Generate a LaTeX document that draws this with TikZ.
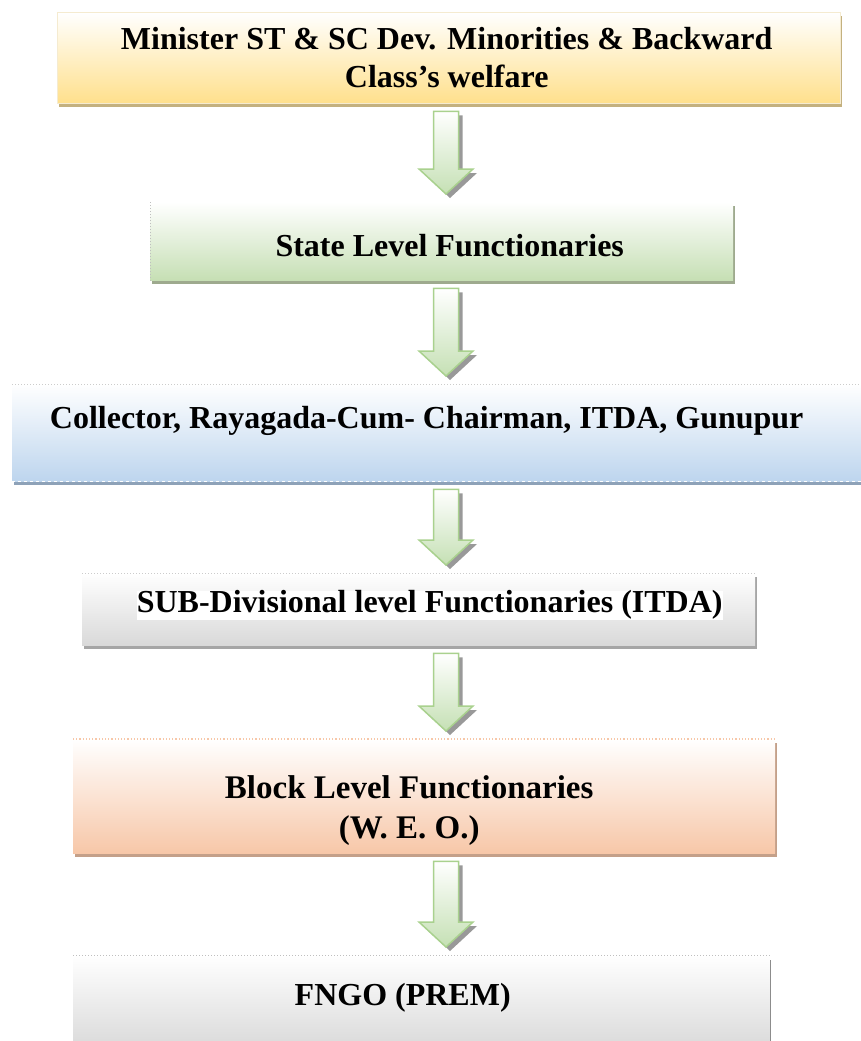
\documentclass[tikz,border=0pt]{standalone}
\usepackage{fontspec}
\setmainfont{Liberation Serif}
\usetikzlibrary{calc, shadows}

\definecolor{minYellow}{HTML}{FFE08C}
\definecolor{minShadow}{HTML}{C4B17F}
\definecolor{minEdge}{HTML}{F5EBD0}
\definecolor{stGreen}{HTML}{C6DFB4}
\definecolor{stShadow}{HTML}{9EAA8E}
\definecolor{colBlue}{HTML}{BDD5EE}
\definecolor{colShadow}{HTML}{8EA2B8}
\definecolor{subGray}{HTML}{D9D9D9}
\definecolor{subShadow}{HTML}{A6A6A6}
\definecolor{blkPeach}{HTML}{F7C7A8}
\definecolor{blkShadow}{HTML}{C4A089}
\definecolor{arrGreen}{HTML}{A9D18E}
\definecolor{arrFill}{HTML}{C5E0B4}

\tikzset{
  levelbox/.style={anchor=north west, inner sep=0pt, top color=white},
  leveltext/.style={font=\bfseries\fontsize{32}{38}\selectfont, align=center, inner sep=0pt},
  boxshadow/.style={drop shadow={shadow xshift=2pt, shadow yshift=-4pt, fill=#1, opacity=1}},
  arrowbody/.style={draw=arrGreen, line width=1.5pt, top color=white, bottom color=arrFill},
  arrowshadow/.style={fill=black!40},
}

% block arrow from one level to the next
\newcommand{\flowarrow}[2]{%
  \foreach \dx/\st in {4pt/arrowshadow, 0pt/arrowbody}{
    \path[\st] let \p0=(axis), \p1=(#1.south), \p2=(#2.north) in
      (\x0-12.5pt+\dx, \y1-8pt-\dx) -- (\x0+12.5pt+\dx, \y1-8pt-\dx)
      -- (\x0+12.5pt+\dx, \y2+33pt-\dx) -- (\x0+27pt+\dx, \y2+33pt-\dx)
      -- (\x0+\dx, \y2+8pt-\dx) -- (\x0-27pt+\dx, \y2+33pt-\dx)
      -- (\x0-12.5pt+\dx, \y2+33pt-\dx) -- cycle;
  }%
}

\begin{document}
\begin{tikzpicture}[x=1pt, y=-1pt]
  \useasboundingbox (0,0) rectangle (861,1041);
  \coordinate (axis) at (446,0);

  % levels
  \node[levelbox, bottom color=minYellow, boxshadow=minShadow, draw=minEdge,
        minimum width=783pt, minimum height=91pt] (b1) at (57,12) {};
  \node[levelbox, bottom color=stGreen, boxshadow=stShadow,
        minimum width=583pt, minimum height=78pt] (b2) at (150,202) {};
  \node[levelbox, bottom color=colBlue, boxshadow=colShadow,
        minimum width=849pt, minimum height=97pt] (b3) at (12,384) {};
  \node[levelbox, bottom color=subGray, boxshadow=subShadow,
        minimum width=673pt, minimum height=72pt] (b4) at (82,573) {};
  \node[levelbox, bottom color=blkPeach, boxshadow=blkShadow,
        minimum width=702pt, minimum height=114pt] (b5) at (73,739) {};
  \node[levelbox, bottom color=subGray,
        minimum width=697pt, minimum height=95pt] (b6) at (73,955) {};

  % edge details
  \draw[white, dashed, line width=1.2pt] (b3.south west) -- (b3.south east);
  \draw[black!25, dotted, line width=1pt] (b2.north west) -- (b2.south west);
  \draw[black!20, dotted, line width=1pt] (b3.north west) -- (b3.north east);
  \draw[black!20, dotted, line width=1pt] (b4.north west) -- (b4.north east);
  \draw[blkPeach, dotted, line width=1.2pt] (b5.north west) -- (b5.north east);
  \draw[black!25, dotted, line width=1pt] (b6.north west) -- (b6.north east);
  \draw[black!45, line width=1pt] ($(b6.north east)+(0,-5pt)$) -- (b6.south east);

  % texts
  \node[leveltext] (t1) at ($(b1.center)+(-2pt,0)$)
    {Minister ST \& SC Dev. Minorities \& Backward\\Class’s welfare};
  \node[leveltext] (t2) at ($(b2.center)+(8pt,-4pt)$) {State Level Functionaries};
  \node[leveltext] (t3) at ($(b3.center)+(-10pt,12pt)$)
    {Collector, Rayagada-Cum- Chairman, ITDA, Gunupur};
  \node[leveltext, fill=white] (t4) at ($(b4.center)+(11pt,4pt)$)
    {SUB-Divisional level Functionaries (ITDA)};
  \node[leveltext, font=\bfseries\fontsize{33}{40}\selectfont] (t5) at ($(b5.center)+(-15pt,-14pt)$)
    {Block Level Functionaries\\(W. E. O.)};
  \node[leveltext] (t6) at ($(b6.center)+(-19pt,5pt)$) {FNGO (PREM)};

  % arrows between levels
  \flowarrow{b1}{b2}
  \flowarrow{b2}{b3}
  \flowarrow{b3}{b4}
  \flowarrow{b4}{b5}
  \flowarrow{b5}{b6}
\end{tikzpicture}
\end{document}
